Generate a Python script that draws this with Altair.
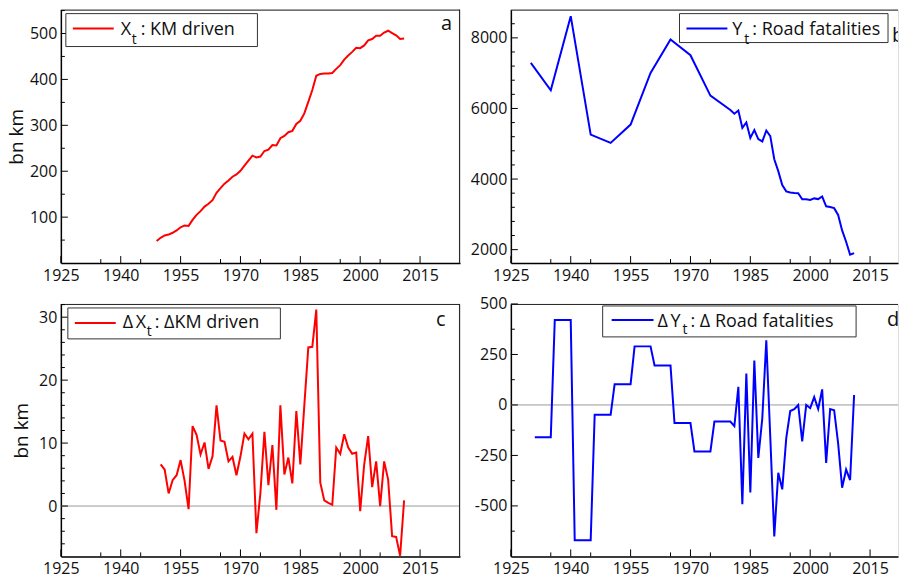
import altair as alt
import pandas as pd

FONT = "Open Sans"
INK = "#111111"

# ---------------- data ----------------
years_km = list(range(1949, 2012))
km_driven = [48, 55, 60, 62, 66, 71, 78, 82, 81, 94,
             105, 113, 123, 129, 137, 153, 163, 173, 180, 188,
             193, 201, 212, 223, 234, 230, 232, 244, 247, 257,
             256, 272, 277, 285, 288, 303, 310, 326, 351, 377,
             408, 412, 413, 413, 414, 423, 431, 443, 452, 460,
             469, 468, 474, 485, 488, 495, 495, 502, 506, 501,
             496, 488, 489]

years_dkm = list(range(1950, 2012))
d_km_driven = [6.6, 5.8, 2.0, 4.1, 4.9, 7.3, 4.0, -0.5, 12.7, 11.3,
               8.2, 10.1, 5.9, 7.9, 16.0, 10.4, 10.2, 7.1, 7.8, 4.9,
               7.9, 11.5, 10.6, 11.5, -4.3, 2.1, 11.8, 3.3, 9.7, -0.6,
               16.0, 5.0, 7.7, 3.6, 15.1, 6.6, 16.0, 25.2, 25.3, 31.2,
               3.7, 0.9, 0.5, 0.2, 9.3, 8.3, 11.4, 9.3, 8.3, 8.5,
               -0.8, 6.6, 11.1, 3.0, 7.1, 0.0, 7.1, 4.2, -4.8, -4.9,
               -7.9, 0.9]

years_fat = [1930, 1935, 1940, 1945, 1950, 1955, 1960, 1965, 1970, 1975] + list(range(1980, 2012))
fatalities = [7290, 6516, 8614, 5259, 5023, 5543, 7008, 7953, 7509, 6365,
              5955, 5850, 5940, 5448, 5604, 5166, 5390, 5130, 5065, 5375,
              5215, 4560, 4225, 3830, 3650, 3620, 3602, 3600, 3428, 3428,
              3410, 3452, 3432, 3505, 3228, 3210, 3175, 2985, 2545, 2225,
              1855, 1903]

years_dfat = list(range(1931, 2012))
d_fatalities = [-160, -160, -160, -160, -160,
                420, 420, 420, 420, 420,
                -670, -670, -670, -670, -670,
                -48, -48, -48, -48, -48,
                103, 103, 103, 103, 103,
                290, 290, 290, 290, 290,
                195, 195, 195, 195, 195,
                -90, -90, -90, -90, -90,
                -230, -230, -230, -230, -230,
                -82, -82, -82, -82, -82,
                -105, 90, -492, 156, -434, 220, -262, -66, 320, -160,
                -651, -336, -418, -164, -30, -21, 0, -180, 0, -16,
                39, -20, 77, -287, -20, -26, -190, -410, -320, -372,
                49]

# axis ticks / labels
X_DOMAIN_LEFT = [1925, 2025]
X_DOMAIN_RIGHT = [1925, 2022]   # right-hand panels are cut off by the page edge
X_MAJOR = [1925, 1940, 1955, 1970, 1985, 2000, 2015]
X_MINOR = [1935, 1945, 1965, 1975, 1995, 2005]

A_MAJOR = [100, 200, 300, 400, 500]
A_MINOR = [50, 150, 250, 350, 450, 550]
B_MAJOR = [2000, 4000, 6000, 8000]
B_MINOR = [2400, 2800, 3200, 3600, 4400, 4800, 5200, 5600, 6400, 6800, 7200, 7600, 8400]
C_MAJOR = [0, 10, 20, 30]
C_MINOR = [-6, -4, -2, 2, 4, 6, 8, 12, 14, 16, 18, 22, 24, 26, 28, 32]
D_MAJOR = [-500, -250, 0, 250, 500]
D_MINOR = [-625, -375, -125, 125, 375]


def one_row():
    return alt.Data(values=[{"k": 0}])


def text_piece(txt, x, y, size=18, clip=False):
    return alt.Chart(one_row()).mark_text(
        text=txt, align="left", baseline="alphabetic", font=FONT,
        fontSize=size, color=INK, clip=clip
    ).encode(x=alt.value(x), y=alt.value(y))


def panel(years, values, color, xdomain, width, ydomain, ymajor, yminor, height,
          ytitle, title_pad, legend, letter, right_border, zero=False):
    df = pd.DataFrame({"year": years, "val": values})
    xscale = alt.Scale(domain=xdomain, nice=False, zero=False)
    yscale = alt.Scale(domain=ydomain, nice=False, zero=False)
    xaxis = alt.Axis(values=X_MAJOR, ticks=False, grid=False, title=None,
                     labelFlush=False, labelPadding=4, labelFont=FONT,
                     labelFontSize=16, labelColor=INK, domainColor="black",
                     domainWidth=1.5, labelOverlap=False,
                     labelExpr="'' + datum.value")
    yaxis_kw = dict(values=ymajor, ticks=False, grid=False,
                    labelPadding=4, labelFont=FONT, labelFontSize=16,
                    labelColor=INK, domainColor="black", domainWidth=1.5,
                    labelExpr="'' + datum.value", labelOverlap=False,
                    titleFont=FONT, titleFontSize=19, titleFontWeight="normal",
                    titleColor=INK, titlePadding=title_pad)
    if ytitle:
        yaxis = alt.Axis(title=ytitle, **yaxis_kw)
    else:
        yaxis = alt.Axis(title=None, **yaxis_kw)

    layers = []
    if zero:
        layers.append(
            alt.Chart(pd.DataFrame({"z": [0]})).mark_rule(color="#9a9a9a", strokeWidth=1)
            .encode(y=alt.Y("z:Q", scale=yscale, axis=yaxis))
        )
    layers.append(
        alt.Chart(df).mark_line(color=color, strokeWidth=2, clip=True)
        .encode(x=alt.X("year:Q", scale=xscale, axis=xaxis),
                y=alt.Y("val:Q", scale=yscale, axis=yaxis))
    )
    # frame: top border (and right border where it is on the page)
    layers.append(
        alt.Chart(one_row()).mark_rule(color="#222222", strokeWidth=1)
        .encode(x=alt.value(0), x2=alt.value(width), y=alt.value(0.5))
    )
    if right_border:
        layers.append(
            alt.Chart(one_row()).mark_rule(color="#222222", strokeWidth=1)
            .encode(x=alt.value(width - 0.5), y=alt.value(0), y2=alt.value(height))
        )
    # inward tick marks
    for vals, ln in ((X_MAJOR, 7), (X_MINOR, 4)):
        layers.append(
            alt.Chart(pd.DataFrame({"v": vals})).mark_rule(color="black", strokeWidth=1)
            .encode(x=alt.X("v:Q", scale=xscale, axis=xaxis),
                    y=alt.value(height), y2=alt.value(height - ln))
        )
    for vals, ln in ((ymajor, 7), (yminor, 4)):
        layers.append(
            alt.Chart(pd.DataFrame({"v": vals})).mark_rule(color="black", strokeWidth=1)
            .encode(y=alt.Y("v:Q", scale=yscale, axis=yaxis),
                    x=alt.value(0), x2=alt.value(ln))
        )
    # legend box
    bx0, by0, bx1, by1 = legend["box"]
    layers.append(
        alt.Chart(one_row()).mark_rect(fill="white", stroke="#333333", strokeWidth=1)
        .encode(x=alt.value(bx0), x2=alt.value(bx1), y=alt.value(by0), y2=alt.value(by1))
    )
    lx0, lx1, ly = legend["line"]
    layers.append(
        alt.Chart(one_row()).mark_rule(color=color, strokeWidth=2)
        .encode(x=alt.value(lx0), x2=alt.value(lx1), y=alt.value(ly))
    )
    for txt, x, y, size in legend["texts"]:
        layers.append(text_piece(txt, x, y, size))
    # panel letter
    layers.append(text_piece(letter[0], letter[1], letter[2], 20, clip=True))

    return alt.layer(*layers).properties(width=width, height=height)


pa = panel(years_km, km_driven, "#ff0000", X_DOMAIN_LEFT, 400, [0, 552], A_MAJOR, A_MINOR, 254,
           "bn km", 3,
           {"box": (5, 4, 197, 37), "line": (12, 53, 19),
            "texts": [("X", 60, 25, 18), ("t", 71, 34, 14), (":  KM driven", 80, 25, 18)]},
           ("a", 381, 20), True)

pb = panel(years_fat, fatalities, "#0000ff", X_DOMAIN_RIGHT, 388, [1620, 8800], B_MAJOR, B_MINOR, 254,
           None, 3,
           {"box": (169, 4, 378, 33), "line": (176, 217, 19),
            "texts": [("Y", 222, 25, 18), ("t", 234, 34, 14), (": Road fatalities", 242, 25, 18)]},
           ("b", 382, 32), False)

pc = panel(years_dkm, d_km_driven, "#ff0000", X_DOMAIN_LEFT, 400, [-8, 32.1], C_MAJOR, C_MINOR, 253,
           "bn km", 7,
           {"box": (7, 4, 220, 35), "line": (14, 55, 19),
            "texts": [("\u0394", 62, 24, 18), ("X", 75, 24, 18), ("t", 86, 32, 14),
                      (": \u0394KM driven", 94, 24, 18)]},
           ("c", 376, 22), True, zero=True)

pd_ = panel(years_dfat, d_fatalities, "#0000ff", X_DOMAIN_RIGHT, 388, [-750, 500], D_MAJOR, D_MINOR, 253,
            None, 3,
            {"box": (92, 2, 346, 33), "line": (101, 143, 16),
             "texts": [("\u0394", 147, 23, 18), ("Y", 160, 23, 18), ("t", 172, 30, 14),
                       (": \u0394 Road fatalities", 180, 23, 18)]},
            ("d", 377, 22), False, zero=True)

chart = alt.concat(
    pa, pb, pc, pd_, columns=2,
    spacing={"row": 41, "column": 51}, bounds="flush"
).properties(
    padding={"left": 7, "top": 8, "right": 0, "bottom": 0}
).configure_view(
    strokeOpacity=0
).configure(font=FONT, background="white")

chart.save("out.html", embed_options={"renderer": "svg", "actions": False})
